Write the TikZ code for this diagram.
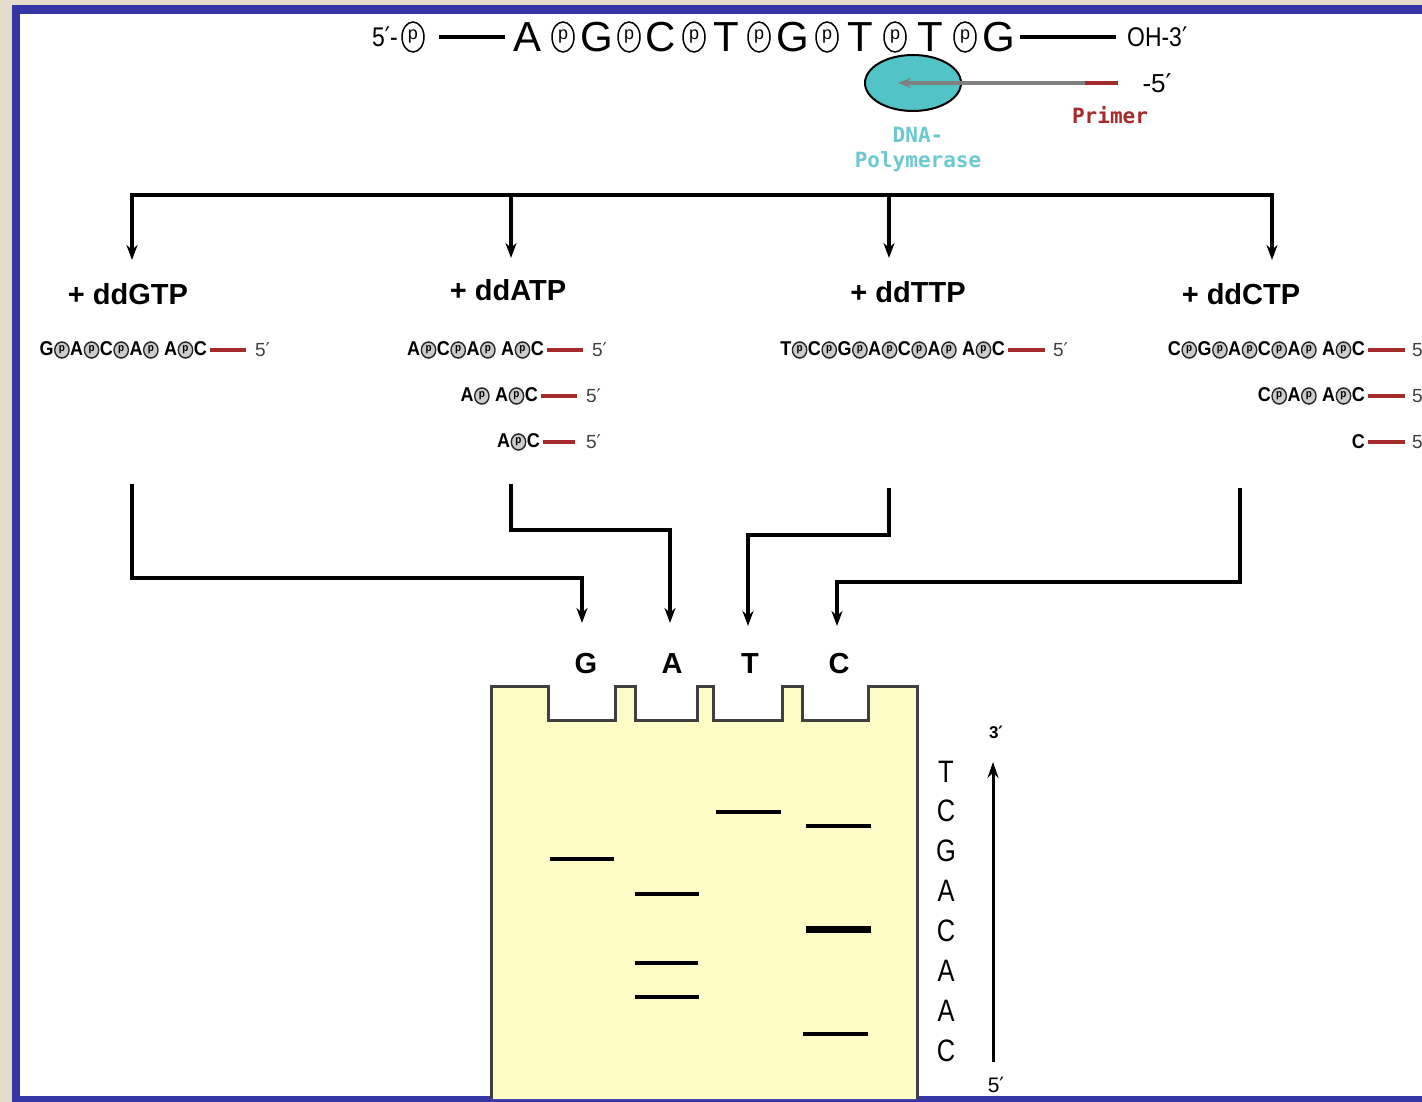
\documentclass[tikz,border=0pt]{standalone}
\usepackage{fontspec}
\setmainfont{Liberation Sans}
\newfontfamily\dv{DejaVu Sans}
\newfontfamily\dvm{DejaVu Sans Mono}
\usetikzlibrary{arrows.meta,shapes.geometric}
\definecolor{bgc}{HTML}{E6DCCB}
\definecolor{framec}{HTML}{3535A5}
\definecolor{polyc}{HTML}{52C3C6}
\definecolor{polytxt}{HTML}{6CC9D0}
\definecolor{primc}{HTML}{A52A2A}
\definecolor{gelc}{HTML}{FDFCC6}
\newcommand{\cp}{\kern0.5pt\tikz[baseline=-5.5pt,x=1pt,y=1pt]\node[circle,draw=black!85,line width=1.5pt,fill=black!20,inner sep=0pt,minimum size=16pt,font=\bfseries\fontsize{11}{11}\selectfont]{p};\kern0.5pt}
\newcommand{\pr}{{\dv ′}}
\begin{document}
\begin{tikzpicture}[x=1pt,y=-1pt,
  pc/.style={ellipse,draw,line width=1.5pt,minimum width=22pt,minimum height=30pt,inner sep=0pt,font=\fontsize{18}{18}\selectfont},
  base/.style={font=\fontsize{42}{42}\selectfont,inner sep=0pt},
  endtxt/.style={font=\fontsize{27}{27}\selectfont,xscale=0.85,inner sep=0pt},
  ddlbl/.style={font=\bfseries\fontsize{29}{29}\selectfont,inner sep=0pt},
  frag/.style={font=\bfseries\fontsize{20}{20}\selectfont,xscale=0.9,inner sep=0pt,anchor=east},
  five/.style={font=\fontsize{19}{19}\selectfont,inner sep=0pt,anchor=west,text=black!75},
  primer/.style={primc,line width=4pt},
  conn/.style={line width=3.5pt,-{Stealth[length=15pt,width=11pt]}},
  band/.style={line width=4pt},
  lane/.style={font=\bfseries\fontsize{29}{29}\selectfont,inner sep=0pt},
  seqr/.style={font=\fontsize{31}{31}\selectfont,xscale=0.82,inner sep=0pt},
  mono/.style={font=\dvm\bfseries\fontsize{21}{21}\selectfont,inner sep=0pt}
]
\useasboundingbox (0,0) rectangle (1422,1102);
\fill[bgc] (0,0) rectangle (1422,1102);
\fill[framec] (12,5) rectangle (1422,1102);
\fill[white] (20,14) rectangle (1422,1096);

% ---- top template strand ----
\node[endtxt,anchor=east] (s5) at (398,37) {5\pr-};
\node[pc] (p0) at (413,37) {p};
\coordinate (l1a) at (439,37);
\coordinate (l1b) at (505,37);
\draw[line width=4pt] (l1a) -- (l1b);
\node[base] (b1) at (528,37) {A};
\node[pc]   (q1) at (563,37) {p};
\node[base] (b2) at (597,37) {G};
\node[pc]   (q2) at (629,37) {p};
\node[base] (b3) at (661,37) {C};
\node[pc]   (q3) at (694,37) {p};
\node[base] (b4) at (726,37) {T};
\node[pc]   (q4) at (759,37) {p};
\node[base] (b5) at (793,37) {G};
\node[pc]   (q5) at (827,37) {p};
\node[base] (b6) at (860,37) {T};
\node[pc]   (q6) at (895,37) {p};
\node[base] (b7) at (930,37) {T};
\node[pc]   (q7) at (965,37) {p};
\node[base] (b8) at (999,37) {G};
\coordinate (l2a) at (1020,37);
\coordinate (l2b) at (1116,37);
\draw[line width=4pt] (l2a) -- (l2b);
\node[endtxt,anchor=west] (oh) at (1127,37) {OH-3\pr};

% ---- polymerase & primer ----
\node[ellipse,draw,line width=2pt,fill=polyc,minimum width=96pt,minimum height=56pt] (pol) at (913,83) {};
\coordinate (pr1) at (1118,83);
\coordinate (pr2) at (1085,83);
\coordinate (pr3) at (898,83);
\draw[black!50,line width=3.5pt,-{Stealth[length=13pt,width=10pt]}] (pr2) -- (pr3);
\draw[primer] (pr1) -- (pr2);
\node[font=\fontsize{26}{26}\selectfont,inner sep=0pt] (m5) at (1157,83) {-5\pr};
\node[mono,text=primc] (prl) at (1110,115) {Primer};
\node[mono,text=polytxt,align=center] (poll) at (918,150) {DNA-\\[4pt]Polymerase};

% ---- distribution tree ----
\coordinate (t1) at (132,195);
\coordinate (t2) at (511,195);
\coordinate (t3) at (889,195);
\coordinate (t4) at (1272,195);
\draw[line width=3.5pt] (130.25,195) -- (1273.75,195);
\coordinate (d1) at (132,260);
\coordinate (d2) at (511,258);
\coordinate (d3) at (889,258);
\coordinate (d4) at (1272,260);
\draw[conn] (t1) -- (d1);
\draw[conn] (t2) -- (d2);
\draw[conn] (t3) -- (d3);
\draw[conn] (t4) -- (d4);

\node[ddlbl] (lg) at (128,294) {+ ddGTP};
\node[ddlbl] (la) at (508,290) {+ ddATP};
\node[ddlbl] (lt) at (908,292) {+ ddTTP};
\node[ddlbl] (lc) at (1241,294) {+ ddCTP};

% ---- fragments ----
\node[frag] (fg1) at (207,350) {G\cp A\cp C\cp A\cp\ A\cp C};
\draw[primer] ([xshift=3pt]fg1.east) -- ++(36,0) node[five,right=7pt] (fg1e) {5\pr};
\node[frag] (fa1) at (544,350) {A\cp C\cp A\cp\ A\cp C};
\draw[primer] ([xshift=3pt]fa1.east) -- ++(36,0) node[five,right=7pt] (fa1e) {5\pr};
\node[frag] (fa2) at (538,396) {A\cp\ A\cp C};
\draw[primer] ([xshift=3pt]fa2.east) -- ++(36,0) node[five,right=7pt] (fa2e) {5\pr};
\node[frag] (fa3) at (540,442) {A\cp C};
\draw[primer] ([xshift=3pt]fa3.east) -- ++(32,0) node[five,right=9pt] (fa3e) {5\pr};
\node[frag] (ft1) at (1005,350) {T\cp C\cp G\cp A\cp C\cp A\cp\ A\cp C};
\draw[primer] ([xshift=3pt]ft1.east) -- ++(37,0) node[five,right=6pt] (ft1e) {5\pr};
\node[frag] (fc1) at (1365,350) {C\cp G\cp A\cp C\cp A\cp\ A\cp C};
\draw[primer] ([xshift=3pt]fc1.east) -- ++(37,0) node[five,right=5pt] (fc1e) {5\pr};
\node[frag] (fc2) at (1365,396) {C\cp A\cp\ A\cp C};
\draw[primer] ([xshift=3pt]fc2.east) -- ++(37,0) node[five,right=5pt] (fc2e) {5\pr};
\node[frag] (fc3) at (1365,442) {C};
\draw[primer] ([xshift=3pt]fc3.east) -- ++(37,0) node[five,right=5pt] (fc3e) {5\pr};

% ---- connectors to gel ----
\node[lane] (gG) at (586,664) {G};
\node[lane] (gA) at (672,664) {A};
\node[lane] (gT) at (750,664) {T};
\node[lane] (gC) at (839,664) {C};
\coordinate (sg) at (132,484);
\coordinate (sa) at (511,484);
\coordinate (st) at (889,488);
\coordinate (sc) at (1240,488);
\coordinate (eg) at (582,623);
\coordinate (ea) at (670,623);
\coordinate (et) at (748,626);
\coordinate (ec) at (837,626);
\draw[conn] (sg) -- (132,578) -- (582,578) -- (eg);
\draw[conn] (sa) -- (511,530) -- (670,530) -- (ea);
\draw[conn] (st) -- (889,535) -- (748,535) -- (et);
\draw[conn] (sc) -- (1240,582) -- (837,582) -- (ec);

% ---- gel ----
\draw[fill=gelc,draw=black!75,line width=3pt]
  (491,1099) -- (491,686) -- (548,686) -- (548,720) -- (615,720) -- (615,686)
  -- (635,686) -- (635,720) -- (697,720) -- (697,686) -- (713,686) -- (713,720)
  -- (782,720) -- (782,686) -- (802,686) -- (802,720) -- (868,720) -- (868,686)
  -- (917,686) -- (917,1099);
\coordinate (gb1a) at (550,859); \coordinate (gb1b) at (614,859);
\coordinate (ab1a) at (635,894); \coordinate (ab1b) at (699,894);
\coordinate (ab2a) at (635,963); \coordinate (ab2b) at (698,963);
\coordinate (ab3a) at (635,997); \coordinate (ab3b) at (699,997);
\coordinate (tb1a) at (716,812); \coordinate (tb1b) at (781,812);
\coordinate (cb1a) at (806,826); \coordinate (cb1b) at (871,826);
\coordinate (cb2a) at (806,929); \coordinate (cb2b) at (871,929);
\coordinate (cb3a) at (803,1034); \coordinate (cb3b) at (868,1034);
\draw[band] (gb1a) -- (gb1b);
\draw[band] (ab1a) -- (ab1b);
\draw[band] (ab2a) -- (ab2b);
\draw[band] (ab3a) -- (ab3b);
\draw[band] (tb1a) -- (tb1b);
\draw[band] (cb1a) -- (cb1b);
\draw[line width=7pt] (cb2a) -- (cb2b);
\draw[band] (cb3a) -- (cb3b);

% ---- read-out ----
\node[seqr] (r1) at (946,772) {T};
\node[seqr] (r2) at (946,811) {C};
\node[seqr] (r3) at (946,851) {G};
\node[seqr] (r4) at (946,891) {A};
\node[seqr] (r5) at (946,931) {C};
\node[seqr] (r6) at (946,971) {A};
\node[seqr] (r7) at (946,1011) {A};
\node[seqr] (r8) at (946,1051) {C};
\node[font=\bfseries\fontsize{17}{17}\selectfont,inner sep=0pt] (t3p) at (996,732) {3\pr};
\node[font=\fontsize{21}{21}\selectfont,inner sep=0pt] (t5p) at (996,1085) {5\pr};
\coordinate (ar1) at (993,1062);
\coordinate (ar2) at (993,762);
\draw[line width=3pt,-{Stealth[length=16pt,width=11pt]}] (ar1) -- (ar2);
\end{tikzpicture}
\end{document}
